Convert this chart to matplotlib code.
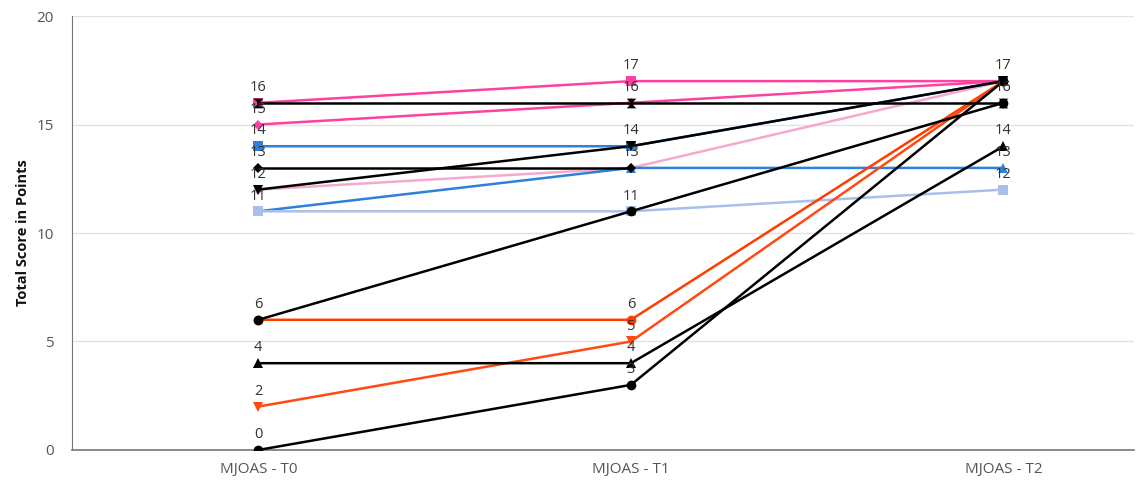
import numpy as np
import matplotlib.pyplot as plt
from matplotlib.path import Path

categories = ["MJOAS - T0", "MJOAS - T1", "MJOAS - T2"]

# one list per patient (nan = no value)
pink_square = [16, 17, 17]
black_bowtie = [16, 16, 16]
pink_diamond = [15, 16, 17]
blue_square = [14, 14, 17]
black_diamond = [13, 13, np.nan]
black_tri_down = [12, 14, 17]
light_pink = [12, 13, 17]
blue_triangle = [11, 13, 13]
light_blue = [11, 11, 12]
black_circle_a = [6, 11, 16]
orange_circle = [6, 6, 17]
black_triangle = [4, 4, 14]
orange_tri_down = [2, 5, 17]
black_circle_b = [0, 3, 17]

bowtie = Path([(-1, 1), (1, 1), (-1, -1), (1, -1), (-1, 1)],
              [Path.MOVETO, Path.LINETO, Path.LINETO, Path.LINETO, Path.CLOSEPOLY])

# drawing order: later entries sit on top
series = [
    (light_pink, "#F7A8CF", "D"),
    (pink_diamond, "#FF40A0", "D"),
    (pink_square, "#FF40A0", "s"),
    (blue_triangle, "#2F80D8", "^"),
    (light_blue, "#A9BFEA", "s"),
    (blue_square, "#2F80D8", "s"),
    (orange_circle, "#FF3D00", "o"),
    (orange_tri_down, "#FF4A12", "v"),
    (black_circle_b, "black", "o"),
    (black_triangle, "black", "^"),
    (black_diamond, "black", "D"),
    (black_circle_a, "black", "o"),
    (black_bowtie, "black", bowtie),
    (black_tri_down, "black", "v"),
]

plt.rcParams['font.family'] = ['Open Sans', 'DejaVu Sans']

fig = plt.figure(figsize=(11.43, 4.92), dpi=100)
ax = fig.add_axes([0.063, 0.0854, 0.929, 0.882])
x = np.arange(len(categories))

for vals, color, marker in series:
    ms = 5.5 if marker == "D" else 7
    ax.plot(x, vals, color=color, lw=1.8, marker=marker, ms=ms,
            markeredgewidth=0, zorder=3)

# data labels, one per distinct value at each time point
all_vals = np.array([s[0] for s in series], dtype=float)
for i in range(len(categories)):
    col = all_vals[:, i]
    for v in np.unique(col[~np.isnan(col)]):
        ax.annotate(f"{int(v)}", (i, v), xytext=(0, 11), textcoords="offset points",
                    ha="center", va="center", fontsize=10.5, color="#333333", zorder=5)

ax.set_xlim(-0.5, 2.35)
ax.set_ylim(0, 20)
ax.set_yticks([0, 5, 10, 15, 20])
ax.set_xticks(x)
ax.set_xticklabels(categories)
ax.tick_params(axis="both", length=0, labelsize=11, labelcolor="#555555")
ax.tick_params(axis="x", pad=9)
ax.tick_params(axis="y", pad=13)
ax.grid(axis="y", color="#e2e2e2", lw=1)
ax.set_axisbelow(True)
for s in ["top", "right"]:
    ax.spines[s].set_visible(False)
ax.spines["left"].set_color("#777777")
ax.spines["bottom"].set_color("#777777")
ax.spines["bottom"].set_linewidth(1.2)
ax.set_ylabel("Total Score in Points", fontsize=10.5, fontweight="bold", color="#111111")
ax.yaxis.set_label_coords(-0.04, 0.5)

fig.savefig("out.png", dpi=100)
